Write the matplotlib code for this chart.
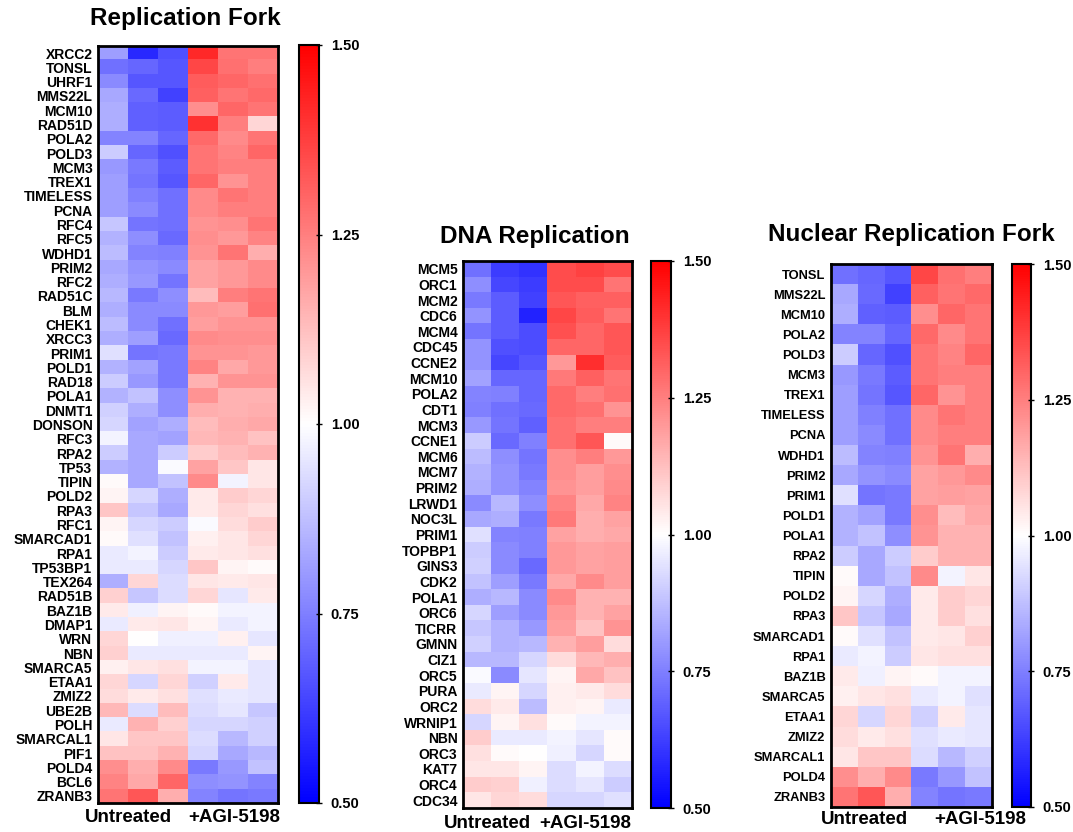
import numpy as np
import matplotlib
matplotlib.use("Agg")
import matplotlib.pyplot as plt
from matplotlib import font_manager
from matplotlib.colors import LinearSegmentedColormap

# ---------------- data ----------------
fork_genes = ["XRCC2", "TONSL", "UHRF1", "MMS22L", "MCM10", "RAD51D", "POLA2", "POLD3", "MCM3", "TREX1",
              "TIMELESS", "PCNA", "RFC4", "RFC5", "WDHD1", "PRIM2", "RFC2", "RAD51C", "BLM", "CHEK1",
              "XRCC3", "PRIM1", "POLD1", "RAD18", "POLA1", "DNMT1", "DONSON", "RFC3", "RPA2", "TP53",
              "TIPIN", "POLD2", "RPA3", "RFC1", "SMARCAD1", "RPA1", "TP53BP1", "TEX264", "RAD51B", "BAZ1B",
              "DMAP1", "WRN", "NBN", "SMARCA5", "ETAA1", "ZMIZ2", "UBE2B", "POLH", "SMARCAL1", "PIF1",
              "POLD4", "BCL6", "ZRANB3"]
fork_values = [
    [0.81, 0.58, 0.66, 1.42, 1.27, 1.27],
    [0.72, 0.70, 0.67, 1.36, 1.28, 1.25],
    [0.77, 0.67, 0.67, 1.32, 1.30, 1.28],
    [0.83, 0.71, 0.63, 1.31, 1.27, 1.29],
    [0.84, 0.69, 0.68, 1.22, 1.30, 1.27],
    [0.84, 0.69, 0.68, 1.40, 1.25, 1.08],
    [0.76, 0.76, 0.70, 1.29, 1.23, 1.27],
    [0.90, 0.70, 0.66, 1.27, 1.24, 1.30],
    [0.80, 0.74, 0.68, 1.27, 1.25, 1.25],
    [0.81, 0.73, 0.67, 1.30, 1.21, 1.25],
    [0.81, 0.75, 0.72, 1.23, 1.27, 1.25],
    [0.81, 0.77, 0.72, 1.23, 1.25, 1.25],
    [0.89, 0.73, 0.72, 1.21, 1.22, 1.27],
    [0.85, 0.78, 0.71, 1.22, 1.20, 1.24],
    [0.87, 0.76, 0.75, 1.21, 1.27, 1.16],
    [0.83, 0.79, 0.77, 1.18, 1.20, 1.23],
    [0.84, 0.80, 0.73, 1.18, 1.20, 1.23],
    [0.86, 0.74, 0.78, 1.13, 1.25, 1.27],
    [0.84, 0.77, 0.77, 1.20, 1.19, 1.28],
    [0.87, 0.77, 0.72, 1.19, 1.21, 1.21],
    [0.84, 0.81, 0.71, 1.23, 1.22, 1.22],
    [0.94, 0.73, 0.74, 1.21, 1.21, 1.20],
    [0.85, 0.82, 0.74, 1.24, 1.17, 1.20],
    [0.90, 0.80, 0.74, 1.15, 1.21, 1.21],
    [0.85, 0.88, 0.78, 1.21, 1.15, 1.15],
    [0.91, 0.84, 0.78, 1.16, 1.15, 1.16],
    [0.92, 0.82, 0.84, 1.13, 1.16, 1.17],
    [0.98, 0.83, 0.82, 1.14, 1.15, 1.12],
    [0.90, 0.83, 0.90, 1.10, 1.13, 1.15],
    [0.85, 0.83, 0.99, 1.18, 1.11, 1.05],
    [1.01, 0.83, 0.88, 1.23, 0.98, 1.05],
    [1.02, 0.92, 0.84, 1.04, 1.10, 1.08],
    [1.11, 0.89, 0.83, 1.04, 1.08, 1.06],
    [1.02, 0.92, 0.90, 0.99, 1.07, 1.10],
    [1.01, 0.94, 0.88, 1.03, 1.05, 1.08],
    [0.96, 0.98, 0.90, 1.04, 1.05, 1.06],
    [0.96, 0.96, 0.92, 1.11, 1.02, 1.01],
    [0.84, 1.08, 0.93, 1.05, 1.04, 1.05],
    [1.09, 0.89, 0.93, 1.08, 0.95, 1.04],
    [1.04, 0.97, 1.02, 1.01, 0.98, 0.98],
    [0.96, 1.04, 1.05, 1.02, 0.96, 0.98],
    [1.08, 1.00, 0.97, 0.97, 1.03, 0.95],
    [1.09, 0.96, 0.96, 0.96, 0.96, 1.02],
    [1.03, 1.05, 1.06, 0.98, 0.98, 0.95],
    [1.08, 0.92, 1.08, 0.91, 1.04, 0.95],
    [1.07, 1.04, 1.06, 0.94, 0.96, 0.95],
    [1.14, 0.93, 1.13, 0.93, 0.95, 0.89],
    [0.96, 1.15, 1.09, 0.92, 0.92, 0.91],
    [1.05, 1.11, 1.11, 0.93, 0.86, 0.91],
    [1.12, 1.12, 1.15, 0.92, 0.83, 0.86],
    [1.22, 1.16, 1.23, 0.74, 0.80, 0.88],
    [1.24, 1.17, 1.30, 0.78, 0.79, 0.76],
    [1.27, 1.33, 1.16, 0.76, 0.73, 0.74],
]

dna_genes = ["MCM5", "ORC1", "MCM2", "CDC6", "MCM4", "CDC45", "CCNE2", "MCM10", "POLA2", "CDT1",
             "MCM3", "CCNE1", "MCM6", "MCM7", "PRIM2", "LRWD1", "NOC3L", "PRIM1", "TOPBP1", "GINS3",
             "CDK2", "POLA1", "ORC6", "TICRR", "GMNN", "CIZ1", "ORC5", "PURA", "ORC2", "WRNIP1",
             "NBN", "ORC3", "KAT7", "ORC4", "CDC34"]
dna_values = [
    [0.72, 0.62, 0.60, 1.35, 1.37, 1.35],
    [0.78, 0.64, 0.62, 1.35, 1.35, 1.27],
    [0.74, 0.68, 0.63, 1.33, 1.31, 1.31],
    [0.79, 0.68, 0.57, 1.36, 1.32, 1.27],
    [0.73, 0.68, 0.65, 1.34, 1.30, 1.33],
    [0.79, 0.66, 0.65, 1.30, 1.30, 1.33],
    [0.79, 0.64, 0.67, 1.20, 1.41, 1.32],
    [0.82, 0.70, 0.70, 1.26, 1.31, 1.27],
    [0.76, 0.75, 0.70, 1.29, 1.25, 1.28],
    [0.75, 0.72, 0.71, 1.29, 1.28, 1.21],
    [0.80, 0.73, 0.69, 1.28, 1.25, 1.25],
    [0.90, 0.71, 0.75, 1.28, 1.33, 1.01],
    [0.87, 0.78, 0.73, 1.22, 1.25, 1.20],
    [0.85, 0.79, 0.74, 1.22, 1.19, 1.22],
    [0.84, 0.79, 0.76, 1.21, 1.19, 1.23],
    [0.77, 0.86, 0.78, 1.24, 1.17, 1.24],
    [0.83, 0.84, 0.74, 1.26, 1.16, 1.18],
    [0.94, 0.76, 0.75, 1.18, 1.16, 1.17],
    [0.90, 0.77, 0.75, 1.20, 1.18, 1.19],
    [0.91, 0.77, 0.71, 1.20, 1.18, 1.19],
    [0.88, 0.81, 0.74, 1.17, 1.23, 1.19],
    [0.84, 0.86, 0.77, 1.23, 1.15, 1.15],
    [0.92, 0.81, 0.77, 1.20, 1.15, 1.18],
    [0.89, 0.85, 0.80, 1.19, 1.12, 1.21],
    [0.91, 0.85, 0.86, 1.15, 1.19, 1.07],
    [0.86, 0.86, 0.92, 1.07, 1.14, 1.16],
    [0.99, 0.77, 0.95, 1.02, 1.17, 1.12],
    [0.96, 1.02, 0.92, 1.03, 1.04, 1.07],
    [1.07, 1.04, 0.87, 1.03, 1.02, 0.96],
    [0.92, 1.02, 1.06, 1.01, 0.98, 0.98],
    [1.10, 0.96, 0.96, 0.98, 0.95, 1.01],
    [1.06, 1.01, 1.00, 0.97, 0.92, 1.01],
    [1.05, 1.05, 1.02, 0.93, 0.98, 0.93],
    [1.10, 1.09, 0.97, 0.93, 0.95, 0.90],
    [1.05, 1.08, 1.07, 0.92, 0.92, 0.94],
]

nuc_genes = ["TONSL", "MMS22L", "MCM10", "POLA2", "POLD3", "MCM3", "TREX1", "TIMELESS", "PCNA", "WDHD1",
             "PRIM2", "PRIM1", "POLD1", "POLA1", "RPA2", "TIPIN", "POLD2", "RPA3", "SMARCAD1", "RPA1",
             "BAZ1B", "SMARCA5", "ETAA1", "ZMIZ2", "SMARCAL1", "POLD4", "ZRANB3"]
nuc_values = [
    [0.72, 0.70, 0.67, 1.36, 1.28, 1.25],
    [0.83, 0.71, 0.63, 1.31, 1.27, 1.29],
    [0.84, 0.69, 0.68, 1.22, 1.30, 1.27],
    [0.76, 0.76, 0.70, 1.29, 1.23, 1.27],
    [0.90, 0.70, 0.66, 1.27, 1.24, 1.30],
    [0.80, 0.74, 0.68, 1.27, 1.25, 1.25],
    [0.81, 0.73, 0.67, 1.30, 1.21, 1.25],
    [0.81, 0.75, 0.72, 1.23, 1.27, 1.25],
    [0.81, 0.77, 0.72, 1.23, 1.25, 1.25],
    [0.87, 0.76, 0.75, 1.21, 1.27, 1.16],
    [0.83, 0.79, 0.77, 1.18, 1.20, 1.23],
    [0.94, 0.73, 0.74, 1.18, 1.19, 1.18],
    [0.85, 0.82, 0.74, 1.22, 1.13, 1.17],
    [0.85, 0.88, 0.78, 1.21, 1.15, 1.15],
    [0.90, 0.83, 0.90, 1.10, 1.15, 1.15],
    [1.01, 0.83, 0.88, 1.23, 0.98, 1.05],
    [1.02, 0.92, 0.84, 1.04, 1.10, 1.08],
    [1.11, 0.89, 0.83, 1.04, 1.10, 1.06],
    [1.01, 0.94, 0.88, 1.04, 1.05, 1.09],
    [0.96, 0.98, 0.90, 1.05, 1.06, 1.06],
    [1.04, 0.97, 1.02, 1.01, 0.98, 0.98],
    [1.03, 1.05, 1.06, 0.96, 0.98, 0.94],
    [1.08, 0.92, 1.08, 0.91, 1.04, 0.95],
    [1.07, 1.04, 1.06, 0.94, 0.96, 0.95],
    [1.05, 1.11, 1.11, 0.93, 0.86, 0.91],
    [1.22, 1.16, 1.23, 0.74, 0.80, 0.88],
    [1.27, 1.33, 1.16, 0.76, 0.73, 0.74],
]

titles = ["Replication Fork", "DNA Replication", "Nuclear Replication Fork"]
group_labels = ["Untreated", "+AGI-5198"]
cbar_ticks = [0.50, 0.75, 1.00, 1.25, 1.50]

# ---------------- style ----------------
names = {f.name for f in font_manager.fontManager.ttflist}
narrow = "Liberation Sans Narrow" if "Liberation Sans Narrow" in names else "Liberation Sans"
narrow_size = 12.2 if narrow == "Liberation Sans Narrow" else 10
plt.rcParams["font.family"] = ["Liberation Sans", "DejaVu Sans"]

cmap = LinearSegmentedColormap.from_list("bwr_lin", [(0, 0, 1), (1, 1, 1), (1, 0, 0)])

W, H = 1073, 832
fig = plt.figure(figsize=(W / 100, H / 100), dpi=100)


def rect(x0, y0, x1, y1):
    return [x0 / W, 1 - y1 / H, (x1 - x0) / W, (y1 - y0) / H]


panels = [
    dict(genes=fork_genes, vals=fork_values, hm=(98, 46, 278, 803), cb=(299, 45, 319, 803),
         title=(185, 18), lab_font=narrow, lab_size=narrow_size,
         xl=[(128, 818), (234, 818)]),
    dict(genes=dna_genes, vals=dna_values, hm=(463, 261, 632, 808), cb=(651, 261, 671, 808),
         title=(535, 237), lab_font=narrow, lab_size=narrow_size,
         xl=[(487, 823), (585, 823)]),
    dict(genes=nuc_genes, vals=nuc_values, hm=(831, 264, 992, 807), cb=(1012, 264, 1031, 807),
         title=(911, 235), lab_font="Liberation Sans", lab_size=9.3,
         xl=[(864, 819), (980, 819)]),
]

for p, title in zip(panels, titles):
    ax = fig.add_axes(rect(*p["hm"]))
    data = np.array(p["vals"])
    im = ax.imshow(data, cmap=cmap, vmin=0.5, vmax=1.5, aspect="auto", interpolation="nearest")
    ax.set_xticks([])
    ax.set_yticks(range(len(p["genes"])))
    ax.set_yticklabels(p["genes"], fontfamily=p["lab_font"], fontweight="bold",
                       fontsize=p["lab_size"])
    ax.tick_params(axis="y", length=0, pad=4)
    for s in ax.spines.values():
        s.set_linewidth(2)
        s.set_color("black")

    cax = fig.add_axes(rect(*p["cb"]))
    cb = fig.colorbar(im, cax=cax, ticks=cbar_ticks)
    cb.outline.set_linewidth(1.5)
    cax.set_yticklabels([f"{t:.2f}" for t in cbar_ticks], fontweight="bold", fontsize=10.5)
    cax.tick_params(axis="y", direction="inout", length=5, width=1, pad=6)

    fig.text(p["title"][0] / W, 1 - p["title"][1] / H, title, ha="center", va="center",
             fontsize=17.5, fontweight="bold")
    for (x, y), lab in zip(p["xl"], group_labels):
        fig.text(x / W, 1 - y / H, lab, ha="center", va="center", fontsize=13.5, fontweight="bold")

fig.savefig("out.png", dpi=100)
